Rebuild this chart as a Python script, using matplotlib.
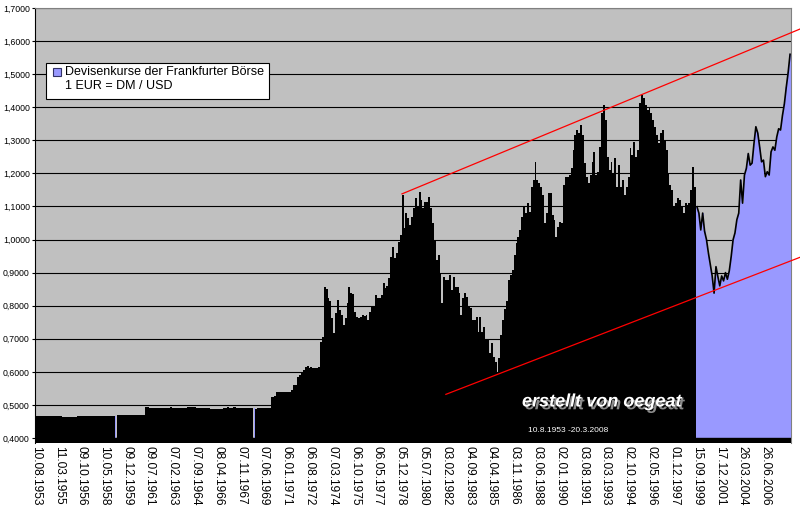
import matplotlib.pyplot as plt
import matplotlib.patches as mpatches
import matplotlib.patheffects as pe
import numpy as np

plt.rcParams['font.family'] = ['Liberation Sans', 'DejaVu Sans']

nan = float('nan')

# USD per EUR, computed from DM/USD (Frankfurt fixing)
dm_values = [
    0.466, 0.466, 0.466, 0.466, 0.466, 0.466, 0.466, 0.466, 0.466, 0.466,
    0.466, 0.466, 0.466, 0.466, 0.463, 0.463, 0.463, 0.463, 0.463, 0.463,
    0.463, 0.463, 0.466, 0.466, 0.466, 0.466, 0.466, 0.466, 0.466, 0.466,
    0.466, 0.466, 0.466, 0.466, 0.466, 0.466, 0.466, 0.466, 0.466, 0.466,
    0.466, 0.466, nan, 0.470, 0.469, 0.471, 0.471, 0.469, 0.469, 0.469,
    0.470, 0.470, 0.470, 0.470, 0.470, 0.470, 0.470, 0.470, 0.493, 0.493,
    0.492, 0.492, 0.491, 0.491, 0.491, 0.491, 0.490, 0.491, 0.491, 0.491,
    0.491, 0.493, 0.490, 0.490, 0.492, 0.490, 0.490, 0.491, 0.490, 0.490,
    0.494, 0.494, 0.494, 0.493, 0.494, 0.491, 0.491, 0.491, 0.490, 0.491,
    0.491, 0.491, 0.488, 0.488, 0.488, 0.488, 0.488, 0.488, 0.489, 0.492,
    0.492, 0.493, 0.492, 0.492, 0.494, 0.493, 0.492, 0.492, 0.490, 0.490,
    0.492, 0.490, 0.490, 0.491, 0.490, nan, 0.489, 0.490, 0.490, 0.491,
    0.490, 0.492, 0.490, 0.491, 0.525, 0.525, 0.527, 0.538, 0.538, 0.538,
    0.538, 0.538, 0.538, 0.540, 0.538, 0.545, 0.560, 0.560, 0.585, 0.590,
    0.600, 0.605, 0.615, 0.617, 0.612, 0.615, 0.613, 0.612, 0.612, 0.615,
    0.691, 0.706, 0.857, 0.850, 0.823, 0.815, 0.763, 0.717, 0.778, 0.817,
    0.787, 0.772, 0.742, 0.763, 0.808, 0.857, 0.838, 0.835, 0.780, 0.767,
    0.763, 0.765, 0.772, 0.770, 0.772, 0.757, 0.780, 0.797, 0.800, 0.832,
    0.823, 0.823, 0.832, 0.868, 0.853, 0.860, 0.884, 0.948, 0.978, 0.944,
    0.959, 0.993, 1.014, 1.135, 1.035, 1.080, 1.065, 1.044, 1.069, 1.095,
    1.125, 1.099, 1.145, 1.120, 1.095, 1.114, 1.114, 1.130, 1.095, 1.050,
    0.999, 0.938, 0.953, 0.899, 0.808, 0.888, 0.878, 0.878, 0.893, 0.848,
    0.888, 0.857, 0.857, 0.838, 0.772, 0.823, 0.838, 0.827, 0.797, 0.793,
    0.757, 0.757, 0.767, 0.721, 0.767, 0.721, 0.736, 0.696, 0.696, 0.657,
    0.687, 0.646, 0.631, 0.600, 0.642, 0.711, 0.757, 0.790, 0.815, 0.878,
    0.893, 0.908, 0.953, 0.989, 1.009, 1.030, 1.069, 1.099, 1.080, 1.110,
    1.084, 1.160, 1.180, 1.235, 1.180, 1.171, 1.160, 1.135, 1.050, 1.080,
    1.140, 1.140, 1.074, 1.059, 1.009, 1.039, 1.054, 1.050, 1.165, 1.190,
    1.190, 1.195, 1.215, 1.271, 1.316, 1.331, 1.322, 1.346, 1.316, 1.231,
    1.190, 1.171, 1.195, 1.235, 1.265, 1.195, 1.205, 1.280, 1.382, 1.407,
    1.361, 1.251, 1.210, 1.235, 1.201, 1.246, 1.160, 1.225, 1.160, 1.180,
    1.135, 1.160, 1.190, 1.277, 1.256, 1.296, 1.251, 1.271, 1.413, 1.437,
    1.428, 1.407, 1.392, 1.401, 1.382, 1.361, 1.340, 1.315, 1.292, 1.322,
    1.331, 1.300, 1.270, 1.200, 1.165, 1.150, 1.099, 1.110, 1.125, 1.120,
    1.100, 1.080, 1.110, 1.104, 1.110, 1.150, 1.220, 1.160,
]

eur_values = [
    1.099, 1.080,
    1.029, 1.080, 1.025, 1.000, 0.960, 0.925, 0.890, 0.838, 0.918, 0.888,
    0.860, 0.890, 0.875, 0.900, 0.880, 0.905, 0.948, 0.999, 1.020, 1.060,
    1.080, 1.180, 1.110, 1.195, 1.215, 1.260, 1.225, 1.231, 1.290, 1.341,
    1.322, 1.280, 1.235, 1.240, 1.190, 1.205, 1.195, 1.265, 1.280, 1.270,
    1.310, 1.335, 1.331, 1.375, 1.410, 1.460, 1.505, 1.560,
]

date_labels = [
    "10.08.1953", "11.03.1955", "09.10.1956", "10.05.1958", "09.12.1959",
    "09.07.1961", "07.02.1963", "07.09.1964", "08.04.1966", "07.11.1967",
    "07.06.1969", "06.01.1971", "06.08.1972", "07.03.1974", "06.10.1975",
    "06.05.1977", "05.12.1978", "05.07.1980", "03.02.1982", "04.09.1983",
    "04.04.1985", "03.11.1986", "03.06.1988", "02.01.1990", "03.08.1991",
    "03.03.1993", "02.10.1994", "02.05.1996", "01.12.1997", "15.09.1999",
    "17.12.2001", "26.03.2004", "26.06.2006",
]
LABEL_STEP = 12

y_ticks = [0.4, 0.5, 0.6, 0.7, 0.8, 0.9, 1.0, 1.1, 1.2, 1.3, 1.4, 1.5, 1.6, 1.7]

# hand drawn trend channel: (index, value) at both ends
upper_trend = ([192.7, 402.1], [1.138, 1.636])
lower_trend = ([215.8, 402.1], [0.532, 0.946])

BASELINE = 0.4
Y_MIN = 0.385
GREY = "#C0C0C0"
LAVENDER = "#9999FF"

dm = np.array(dm_values)
eur = np.array(eur_values)
x_dm = np.arange(len(dm))
x_eur = np.arange(len(dm), len(dm) + len(eur))
n_total = len(dm) + len(eur)

fig = plt.figure(figsize=(8, 5.11), dpi=100)
ax = fig.add_axes([0.04375, 0.1331, 0.945, 0.8513])
ax.set_facecolor(GREY)

# missing fixings show up as thin lavender lines
gaps = np.where(np.isnan(dm))[0]
ax.bar(gaps, dm[gaps - 1] - BASELINE, bottom=BASELINE, width=0.6,
       color=LAVENDER, linewidth=0, antialiased=False, zorder=2)

ax.bar(x_dm, dm - BASELINE, bottom=BASELINE, width=1.0, color="black",
       linewidth=0, antialiased=False, zorder=3)
ax.bar(x_eur, eur - BASELINE, bottom=BASELINE, width=1.0, color=LAVENDER,
       linewidth=0, antialiased=False, zorder=3)
ax.plot(x_eur, eur, color="black", lw=1.2, zorder=4)

ax.axhspan(Y_MIN, BASELINE, color="black", zorder=4)

ax.plot(*upper_trend, color="red", lw=0.9, clip_on=False, zorder=5)
ax.plot(*lower_trend, color="red", lw=0.9, clip_on=False, zorder=5)

ax.set_xlim(-0.5, n_total - 0.5)
ax.set_ylim(Y_MIN, 1.7)

ax.set_yticks(y_ticks)
ax.set_yticklabels([f"{v:.4f}".replace(".", ",") for v in y_ticks], fontsize=6.3)
ax.yaxis.grid(True, color="black", lw=0.8)
ax.set_axisbelow(True)
ax.tick_params(axis="y", length=2.2, width=0.8, pad=1.5, color="black")

ax.set_xticks(np.arange(len(date_labels)) * LABEL_STEP)
ax.set_xticklabels(date_labels, rotation=270, fontsize=8.6, ha="center", va="top")
ax.tick_params(axis="x", length=0, pad=2.5)

ax.spines["left"].set_color("black")
ax.spines["left"].set_linewidth(0.8)
ax.spines["top"].set_color("#808080")
ax.spines["right"].set_color("#808080")
ax.spines["top"].set_linewidth(0.8)
ax.spines["right"].set_linewidth(0.8)
ax.spines["bottom"].set_visible(False)

# legend box, drawn by hand like the Excel one
fig.add_artist(mpatches.Rectangle((0.0575, 0.8063), 0.2788, 0.0705,
                                  transform=fig.transFigure, facecolor="white",
                                  edgecolor="black", lw=0.8, zorder=6))
fig.add_artist(mpatches.Rectangle((0.0663, 0.8513), 0.0100, 0.0157,
                                  transform=fig.transFigure, facecolor=LAVENDER,
                                  edgecolor="#333366", lw=0.8, zorder=7))
fig.text(0.0812, 0.8591, "Devisenkurse der Frankfurter Börse", fontsize=9,
         va="center", ha="left", zorder=7)
fig.text(0.0812, 0.8317, "1 EUR = DM / USD", fontsize=9,
         va="center", ha="left", zorder=7)

# signature with grey drop shadow
fig.text(0.6525, 0.2133, "erstellt von oegeat", fontsize=13, fontweight="bold",
         fontstyle="italic", color="white", va="center", ha="left", zorder=8,
         path_effects=[pe.SimplePatchShadow(offset=(2, -2), shadow_rgbFace="#8a8a8a",
                                            alpha=1.0),
                       pe.Normal()])
fig.text(0.66, 0.1585, "10.8.1953 -20.3.2008", fontsize=6, color="white",
         va="center", ha="left", zorder=8)

fig.savefig("out.png", dpi=100)
